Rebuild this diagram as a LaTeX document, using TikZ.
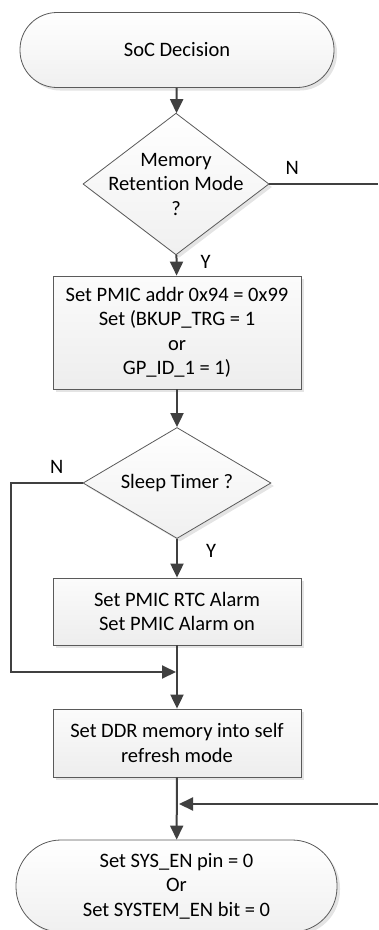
\documentclass[tikz,border=0pt]{standalone}
\usepackage{fontspec}
\setmainfont{Carlito}[Ligatures=NoCommon]
\usetikzlibrary{shapes.geometric,arrows.meta,shadows}
\definecolor{linegray}{HTML}{404040}
\definecolor{bordergray}{HTML}{5A5A5A}
\tikzstyle{startstop} = [rectangle, text centered, align=center, draw=bordergray, line width=0.8pt, top color=white, bottom color=gray!12, drop shadow={shadow xshift=3pt, shadow yshift=-3pt, fill=gray!35, opacity=0.6}]
\tikzstyle{process} = [rectangle, text centered, align=center, draw=bordergray, line width=0.8pt, minimum width=248pt, top color=white!97!gray, bottom color=gray!14, drop shadow={shadow xshift=3pt, shadow yshift=-3pt, fill=gray!35, opacity=0.6}]
\tikzstyle{decision} = [diamond, text centered, align=center, inner sep=-14pt, draw=bordergray, line width=0.8pt, top color=white, bottom color=gray!12, drop shadow={shadow xshift=3pt, shadow yshift=-3pt, fill=gray!35, opacity=0.6}]
\tikzstyle{arrow} = [line width=2pt, draw=linegray, -{Triangle[length=14pt,width=13pt]}]
\tikzstyle{line} = [line width=2pt, draw=linegray]
\tikzstyle{answer} = [inner sep=0pt, text=black]

\begin{document}
\begin{tikzpicture}[x=1pt, y=-1pt, font=\fontsize{20.5}{24.5}\selectfont]
    \useasboundingbox (0,0) rectangle (378,930);

    \node (socdecision) [startstop, minimum width=314pt, minimum height=75pt, rounded corners=37pt] at (177,50) {SoC Decision};
    \node (retention) [decision, minimum width=186pt, minimum height=117pt] at (176,184) {Memory \\ Retention Mode \\ ?};
    \node (pmicaddr) [process, minimum height=113pt] at (177,332.5) {Set PMIC addr 0x94 = 0x99 \\ Set (BKUP\_TRG = 1 \\ or \\ GP\_ID\_1 = 1)};
    \node (sleeptimer) [decision, minimum width=188pt, minimum height=111pt] at (177,483) {Sleep Timer ?};
    \node (rtcalarm) [process, minimum height=67pt] at (177,611.5) {Set PMIC RTC Alarm \\ Set PMIC Alarm on};
    \node (selfrefresh) [process, minimum height=68pt] at (177,743) {Set DDR memory into self \\ refresh mode};
    \node (sysen) [startstop, minimum width=321pt, minimum height=92pt, rounded corners=45pt] at (176.5,886) {Set SYS\_EN pin = 0 \\ Or \\ Set SYSTEM\_EN bit = 0};

    \coordinate (retout) at (378,184);
    \coordinate (sleepleft) at (11,672);
    \coordinate (sleepjoin) at (176,672);
    \coordinate (retin) at (378,804);
    \coordinate (retjoin) at (179,804);

    \draw [arrow] (socdecision) -- (retention);
    \draw [line] (retention) -- node [answer, pos=0.21, above=9pt] {N} (retout);
    \draw [arrow] (retention) -- node [answer, pos=0.35, right=23pt] {Y} (pmicaddr);
    \draw [arrow] (pmicaddr) -- (sleeptimer);
    \draw [arrow] (sleeptimer) -| node [answer, pos=0.18, above=9pt] {N} (sleepleft) -- (sleepjoin);
    \draw [arrow] (sleeptimer) -- node [answer, pos=0.3, right=28pt] {Y} (rtcalarm);
    \draw [arrow] (rtcalarm) -- (selfrefresh);
    \draw [arrow] (selfrefresh) -- (sysen);
    \draw [arrow] (retin) -- (retjoin);
  \end{tikzpicture}
\end{document}
